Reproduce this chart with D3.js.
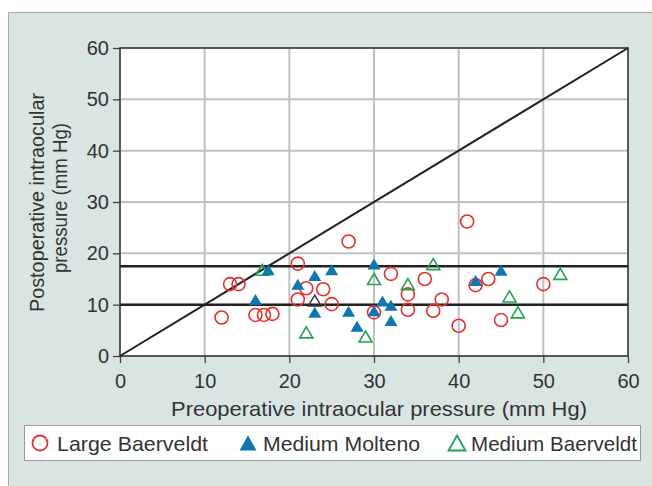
<!DOCTYPE html>
<html><head><meta charset="utf-8">
<script src="https://cdn.jsdelivr.net/npm/d3@7"></script>
<style>body{margin:0;background:#fff;font-family:"Liberation Sans",Arial,sans-serif;}</style>
</head><body><svg id="c" width="652" height="486"></svg>
<script>
// Data
const largeBaerveldt = [[12,7.5],[13,14],[14,14],[16,8],[17,8],[18,8.2],[21,18],[21,11],[22,13.2],[24,13],[25,10.1],[27,22.3],[30,8.5],[32,16],[34,12],[34,9],[36,15],[37,8.8],[38,11],[40,5.9],[41,26.2],[42,13.8],[43.5,15],[45,7],[50,14]];
const mediumMolteno = [[16,11],[17.5,16.8],[21,14],[23,15.7],[23,8.5],[25,16.8],[27,8.7],[28,5.8],[30,17.9],[30,8.8],[31,10.7],[32,9.9],[32,6.9],[42,14.7],[45,16.7]];
const mediumBaerveldt = [[16.8,16.8],[22,4.6],[29,3.8],[30,15],[34,14],[37,17.9],[46,11.6],[47,8.5],[52,16]];
const otherPoints = [[23,10.8]];
const refLines = [10,17.5];
const ticks = [0,10,20,30,40,50,60];
const seriesNames = ["Large Baerveldt","Medium Molteno","Medium Baerveldt"];

const svg = d3.select("#c");
const red="#e8302a", blue="#0b78b4", green="#1ea352", txt="#333";
svg.append("rect").attr("x",8.5).attr("y",12.5).attr("width",660).attr("height",480)
  .attr("fill","#d8e5e2").attr("stroke","#a8a8a8");

const x = d3.scaleLinear().domain([0,60]).range([120,628]);
const y = d3.scaleLinear().domain([0,60]).range([356,48]);

svg.append("rect").attr("x",120).attr("y",48).attr("width",508).attr("height",308).attr("fill","#fff");
// grid
svg.append("g").selectAll("line").data(ticks.slice(1,-1)).join("line")
  .attr("x1",d=>x(d)).attr("x2",d=>x(d)).attr("y1",48).attr("y2",356).attr("stroke","#c0c0c0").attr("stroke-width",2);
svg.append("g").selectAll("line").data(ticks.slice(1,-1)).join("line")
  .attr("y1",d=>y(d)).attr("y2",d=>y(d)).attr("x1",120).attr("x2",628).attr("stroke","#c0c0c0").attr("stroke-width",2);

// axes
const tf = "Liberation Sans, Arial, sans-serif";
const xa = svg.append("g").attr("transform","translate(0,356)").call(d3.axisBottom(x).tickValues(ticks).tickSize(7).tickPadding(6));
const ya = svg.append("g").attr("transform","translate(120,0)").call(d3.axisLeft(y).tickValues(ticks).tickSize(7).tickPadding(4));
[xa,ya].forEach(a=>{a.select(".domain").remove();a.selectAll("line").attr("stroke","#444").attr("stroke-width",1.3);
  a.selectAll("text").attr("font-size",20).attr("fill",txt).attr("font-family",tf);});
xa.selectAll("text").attr("dy","0.95em");
svg.append("rect").attr("x",120).attr("y",48).attr("width",508).attr("height",308).attr("fill","none").attr("stroke","#333").attr("stroke-width",1.6);

// reference lines
svg.append("g").selectAll("line").data(refLines).join("line")
  .attr("x1",x(0)).attr("x2",x(60)).attr("y1",d=>y(d)).attr("y2",d=>y(d)).attr("stroke","#222").attr("stroke-width",2.5);
svg.append("line").attr("x1",x(0)).attr("y1",y(0)).attr("x2",x(60)).attr("y2",y(60)).attr("stroke","#222").attr("stroke-width",2);

function tri(cx,cy,w,h){return `M${cx},${cy-h/2}L${cx+w/2},${cy+h/2}L${cx-w/2},${cy+h/2}Z`;}

svg.append("g").selectAll("circle").data(largeBaerveldt).join("circle")
  .attr("cx",d=>x(d[0])).attr("cy",d=>y(d[1])).attr("r",6.5).attr("fill","none").attr("stroke",red).attr("stroke-width",1.6);
svg.append("g").selectAll("path").data(mediumBaerveldt).join("path")
  .attr("d",d=>tri(x(d[0]),y(d[1]),13,11)).attr("fill","none").attr("stroke",green).attr("stroke-width",1.6);
svg.append("g").selectAll("path").data(otherPoints).join("path")
  .attr("d",d=>tri(x(d[0]),y(d[1]),13,11)).attr("fill","none").attr("stroke","#333").attr("stroke-width",1.4);
svg.append("g").selectAll("path").data(mediumMolteno).join("path")
  .attr("d",d=>tri(x(d[0]),y(d[1]),13,11)).attr("fill",blue);

// axis titles
svg.append("text").attr("x",171).attr("y",416).attr("font-size",21).attr("font-family",tf).attr("fill",txt)
  .attr("textLength",416).attr("lengthAdjust","spacingAndGlyphs").text("Preoperative intraocular pressure (mm Hg)");
svg.append("text").attr("transform","translate(44,312) rotate(-90)").attr("font-size",20.5).attr("font-family",tf).attr("fill",txt)
  .attr("textLength",219).attr("lengthAdjust","spacingAndGlyphs").text("Postoperative intraocular");
svg.append("text").attr("transform","translate(67,273) rotate(-90)").attr("font-size",20.5).attr("font-family",tf).attr("fill",txt)
  .attr("textLength",150).attr("lengthAdjust","spacingAndGlyphs").text("pressure (mm Hg)");

// legend
svg.append("rect").attr("x",24.5).attr("y",425.5).attr("width",616).attr("height",35).attr("fill","#fff").attr("stroke","#9a9a9a");
const lg = [{n:seriesNames[0],sx:40,tx:57,tw:151},{n:seriesNames[1],sx:248,tx:263,tw:157},{n:seriesNames[2],sx:457,tx:471,tw:166}];
svg.append("circle").attr("cx",lg[0].sx).attr("cy",443).attr("r",7.5).attr("fill","none").attr("stroke",red).attr("stroke-width",1.8);
svg.append("path").attr("d",tri(lg[1].sx,443,17,15)).attr("fill",blue);
svg.append("path").attr("d",tri(lg[2].sx,443,17,15)).attr("fill","none").attr("stroke",green).attr("stroke-width",1.8);
svg.append("g").selectAll("text").data(lg).join("text").attr("x",d=>d.tx).attr("y",451).attr("font-size",21)
  .attr("font-family",tf).attr("fill",txt).attr("textLength",d=>d.tw).attr("lengthAdjust","spacingAndGlyphs").text(d=>d.n);
</script></body></html>
